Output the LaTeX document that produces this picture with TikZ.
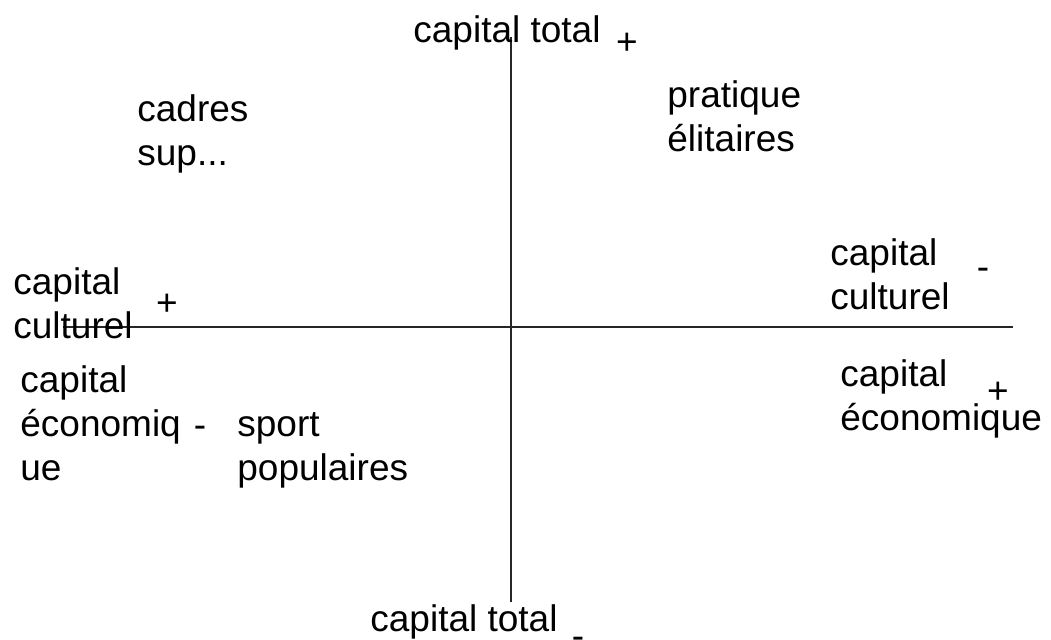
\documentclass[tikz,border=0pt]{standalone}
\usepackage{fontspec}
\setmainfont{Liberation Sans}
\begin{document}
\begin{tikzpicture}[x=0.5pt,y=-0.5pt,
  lbl/.style={anchor=base west, inner sep=0pt, align=left, font=\fontsize{18.5}{22}\selectfont},
  sign/.style={anchor=base, inner sep=0pt, font=\fontsize{18.5}{22}\selectfont},
  axis/.style={line width=0.9pt, black!85}]
\useasboundingbox (0,0) rectangle (1051,640);
% axes
\coordinate (vtop) at (511,37);
\coordinate (vbot) at (511,602);
\coordinate (hleft) at (63,327);
\coordinate (hright) at (1013,327);
\draw[axis] (vtop) -- (vbot);
\draw[axis] (hleft) -- (hright);
% labels (base anchor = baseline of the last line)
\node[lbl] (ttop) at (413,43) {capital total};
\node[sign] (ptop) at (627,55) {+};
\node[lbl] (prat) at (667,152) {pratique\\élitaires};
\node[lbl] (cadr) at (137,166) {cadres\\sup...};
\node[lbl] (ccl) at (13,339) {capital\\culturel};
\node[sign] (pccl) at (167,316) {+};
\node[lbl] (ccr) at (830,310) {capital\\culturel};
\node[sign] (mccr) at (983,280) {-};
\node[lbl] (cer) at (840,431) {capital\\économique};
\node[sign] (pcer) at (998,404) {+};
\node[lbl] (cel) at (20,481) {capital\\économiq\\ue};
\node[sign] (mcel) at (200,438) {-};
\node[lbl] (spor) at (237,481) {sport\\populaires};
\node[lbl] (tbot) at (370,632) {capital total};
\node[sign] (mbot) at (578,649) {-};
\end{tikzpicture}
\end{document}
